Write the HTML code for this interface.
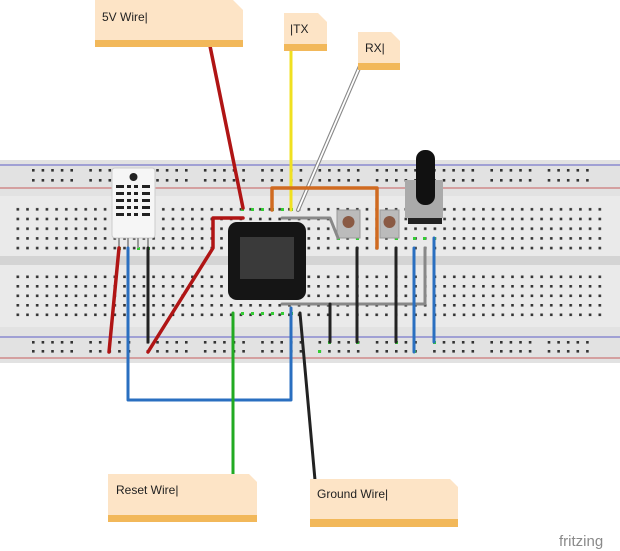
<!DOCTYPE html>
<html><head><style>body{margin:0;background:#fff}svg{display:block}text{font-family:"Liberation Sans",sans-serif}</style></head><body>
<svg width="620" height="551" viewBox="0 0 620 551" xmlns="http://www.w3.org/2000/svg">
<defs>
<pattern id="mh" x="13" y="204.5" width="9.7" height="9.7" patternUnits="userSpaceOnUse"><rect x="3.5" y="3.5" width="2.6" height="2.6" fill="#333"/></pattern>
<pattern id="mh2" x="13" y="272" width="9.7" height="9.5" patternUnits="userSpaceOnUse"><rect x="3.5" y="3.5" width="2.6" height="2.6" fill="#333"/></pattern>
<g id="rg"><rect x="0" y="0" width="2.6" height="2.6" fill="#333"/><rect x="9.6" y="0" width="2.6" height="2.6" fill="#333"/><rect x="19.2" y="0" width="2.6" height="2.6" fill="#333"/><rect x="28.8" y="0" width="2.6" height="2.6" fill="#333"/><rect x="38.4" y="0" width="2.6" height="2.6" fill="#333"/></g>
<g id="rr"><use href="#rg"/><use href="#rg" x="57.3"/><use href="#rg" x="114.6"/><use href="#rg" x="171.9"/><use href="#rg" x="229.2"/><use href="#rg" x="286.5"/><use href="#rg" x="343.8"/><use href="#rg" x="401.1"/><use href="#rg" x="458.4"/><use href="#rg" x="515.7"/></g>
</defs>
<rect x="0" y="160" width="620" height="203" fill="#e2e2e2"/>
<rect x="0" y="196" width="620" height="60" fill="#eaeaea"/>
<rect x="0" y="265" width="620" height="62" fill="#eaeaea"/>
<rect x="0" y="256" width="620" height="9" fill="#d4d4d4"/>
<line x1="0" y1="165" x2="620" y2="165" stroke="#8a8ad0" stroke-width="1.5"/>
<line x1="0" y1="188" x2="620" y2="188" stroke="#d08a8a" stroke-width="1.5"/>
<line x1="0" y1="337" x2="620" y2="337" stroke="#8a8ad0" stroke-width="1.5"/>
<line x1="0" y1="358" x2="620" y2="358" stroke="#d08a8a" stroke-width="1.5"/>
<use href="#rr" x="32" y="169"/><use href="#rr" x="32" y="179"/>
<use href="#rr" x="32" y="341"/><use href="#rr" x="32" y="350"/>
<rect x="13" y="204.5" width="594" height="48.5" fill="url(#mh)"/>
<rect x="13" y="272" width="594" height="47.5" fill="url(#mh2)"/>
<g fill="#3c3">
<rect x="241" y="208" width="3" height="3"/><rect x="251" y="208" width="3" height="3"/><rect x="261" y="208" width="3" height="3"/><rect x="271" y="208" width="3" height="3"/><rect x="281" y="208" width="3" height="3"/><rect x="290" y="208" width="3" height="3"/>
<rect x="241" y="312" width="3" height="3"/><rect x="251" y="312" width="3" height="3"/><rect x="261" y="312" width="3" height="3"/><rect x="271" y="312" width="3" height="3"/><rect x="281" y="312" width="3" height="3"/><rect x="290" y="312" width="3" height="3"/>
<rect x="118" y="247" width="3" height="3"/><rect x="137" y="247" width="3" height="3"/><rect x="147" y="247" width="3" height="3"/>
<rect x="337" y="237" width="3" height="3"/><rect x="356" y="237" width="3" height="3"/><rect x="395" y="237" width="3" height="3"/>
<rect x="413" y="237" width="3" height="3"/><rect x="423" y="237" width="3" height="3"/><rect x="433" y="237" width="3" height="3"/>
<rect x="318" y="350" width="3" height="3"/><rect x="328" y="341" width="3" height="3"/><rect x="356" y="341" width="3" height="3"/><rect x="395" y="341" width="3" height="3"/><rect x="413" y="350" width="3" height="3"/><rect x="433" y="341" width="3" height="3"/>
</g>
<rect x="112" y="168" width="43" height="70" rx="3" fill="#f6f6f6" stroke="#ccc"/>
<circle cx="133.5" cy="177" r="4" fill="#222"/>
<g fill="#222"><rect x="116" y="185" width="8" height="3"/><rect x="127" y="185" width="4" height="3"/><rect x="134" y="185" width="4" height="3"/><rect x="142" y="185" width="8" height="3"/>
<rect x="116" y="192" width="8" height="3"/><rect x="127" y="192" width="4" height="3"/><rect x="134" y="192" width="4" height="3"/><rect x="142" y="192" width="8" height="3"/>
<rect x="116" y="199" width="8" height="3"/><rect x="127" y="199" width="4" height="3"/><rect x="134" y="199" width="4" height="3"/><rect x="142" y="199" width="8" height="3"/>
<rect x="116" y="206" width="8" height="3"/><rect x="127" y="206" width="4" height="3"/><rect x="134" y="206" width="4" height="3"/><rect x="142" y="206" width="8" height="3"/>
<rect x="116" y="213" width="8" height="3"/><rect x="127" y="213" width="4" height="3"/><rect x="134" y="213" width="4" height="3"/><rect x="142" y="213" width="8" height="3"/></g>
<g stroke="#999" stroke-width="2"><line x1="119" y1="238" x2="119" y2="248"/><line x1="128" y1="238" x2="128" y2="248"/><line x1="138" y1="238" x2="138" y2="248"/><line x1="148" y1="238" x2="148" y2="248"/></g>
<rect x="228" y="222" width="78" height="78" rx="9" fill="#151515"/>
<rect x="240" y="237" width="54" height="42" fill="#3a3a3a"/>
<rect x="337" y="210" width="23" height="28" fill="#bbb" stroke="#999"/><circle cx="348.5" cy="222" r="6" fill="#8a5a44"/>
<rect x="380" y="210" width="19" height="28" fill="#bbb" stroke="#999"/><circle cx="389.5" cy="222" r="6" fill="#8a5a44"/>
<rect x="405" y="180" width="38" height="38" fill="#aaa"/><rect x="408" y="218" width="34" height="6" fill="#222"/>
<rect x="416" y="150" width="19" height="55" rx="9" fill="#111"/>
<g fill="none" stroke-linecap="round" stroke-linejoin="round">
<polyline points="210,46 243,208" stroke="#b01515" stroke-width="3.5"/>
<polyline points="243,218 213,218 213,248 148,352" stroke="#b01515" stroke-width="3.5"/>
<polyline points="119,248 109,352" stroke="#b01515" stroke-width="3.5"/>
<polyline points="128,248 128,400 291,400 291,308" stroke="#2a6fc0" stroke-width="3"/>
<polyline points="148,248 148,342" stroke="#222" stroke-width="3"/>
<polyline points="233,313 233,474" stroke="#22aa22" stroke-width="3"/>
<polyline points="300,313 315,480" stroke="#222" stroke-width="3"/>
<polyline points="291,51 291,210" stroke="#f0e020" stroke-width="3"/>
<polyline points="360,66 298,210" stroke="#888" stroke-width="4"/>
<polyline points="360,66 298,210" stroke="#fff" stroke-width="1.8"/>
<polyline points="272,210 272,188 377,188 377,248" stroke="#d06a20" stroke-width="3.5"/>
<polyline points="282,218 330,218 338,238" stroke="#888" stroke-width="3"/>
<polyline points="282,304 425,304 425,248" stroke="#888" stroke-width="3"/>
<polyline points="330,304 330,342" stroke="#222" stroke-width="3"/>
<polyline points="357,248 357,342" stroke="#222" stroke-width="3"/>
<polyline points="396,248 396,342" stroke="#222" stroke-width="3"/>
<polyline points="414,248 414,352" stroke="#2a6fc0" stroke-width="3"/>
<polyline points="434,238 434,342" stroke="#2a6fc0" stroke-width="3"/>
</g>
<g>
<path d="M95,0 H233 L243,10 V47 H95 Z" fill="#fde4c6"/><rect x="95" y="40" width="148" height="7" fill="#f2b85a"/>
<text x="102" y="21" font-size="12" fill="#222">5V Wire|</text>
<path d="M284,13 H318 L327,22 V51 H284 Z" fill="#fde4c6"/><rect x="284" y="44" width="43" height="7" fill="#f2b85a"/>
<text x="290" y="33" font-size="12" fill="#222">|TX</text>
<path d="M358,32 H391 L400,41 V70 H358 Z" fill="#fde4c6"/><rect x="358" y="63" width="42" height="7" fill="#f2b85a"/>
<text x="365" y="52" font-size="12" fill="#222">RX|</text>
<path d="M108,474 H249 L257,482 V522 H108 Z" fill="#fde4c6"/><rect x="108" y="515" width="149" height="7" fill="#f2b85a"/>
<text x="116" y="494" font-size="12" fill="#222">Reset Wire|</text>
<path d="M310,479 H450 L458,487 V527 H310 Z" fill="#fde4c6"/><rect x="310" y="519" width="148" height="8" fill="#f2b85a"/>
<text x="317" y="498" font-size="12" fill="#222">Ground Wire|</text>
</g>
<text x="559" y="546" font-size="15" fill="#8a8a8a">fritzing</text>
</svg>
</body></html>
